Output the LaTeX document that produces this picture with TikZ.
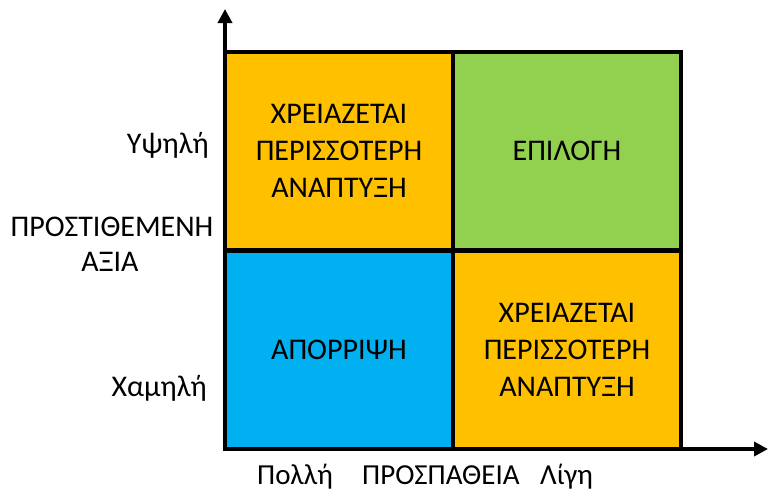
\documentclass[tikz,border=0pt]{standalone}
\usepackage{fontspec}
\setmainfont{Carlito}
\usetikzlibrary{arrows.meta}
\definecolor{qorange}{HTML}{FFC000}
\definecolor{qgreen}{HTML}{92D050}
\definecolor{qblue}{HTML}{00B0F0}
\tikzset{
  quad/.style={draw=black, line width=4pt, minimum width=228pt, minimum height=198pt,
    inner sep=0pt, align=center, font=\fontsize{30}{37}\selectfont},
  axis/.style={line width=4.5pt, -{Triangle[length=14pt,width=14pt]}},
  lbl/.style={inner sep=0pt, font=\fontsize{30}{37}\selectfont},
  blbl/.style={inner sep=0pt, font=\fontsize{29}{36}\selectfont},
}
\begin{document}
\begin{tikzpicture}[x=1pt,y=-1pt]
\useasboundingbox (0,0) rectangle (768,491);
% quadrants
\node[quad, fill=qorange] (tl) at (339,151) {ΧΡΕΙΑΖΕΤΑΙ\\ΠΕΡΙΣΣΟΤΕΡΗ\\ΑΝΑΠΤΥΞΗ};
\node[quad, fill=qgreen] (tr) at (567,151) {ΕΠΙΛΟΓΗ};
\node[quad, fill=qblue] (bl) at (339,349.5) {ΑΠΟΡΡΙΨΗ};
\node[quad, fill=qorange] (br) at (567,349.5) {ΧΡΕΙΑΖΕΤΑΙ\\ΠΕΡΙΣΣΟΤΕΡΗ\\ΑΝΑΠΤΥΞΗ};
% axes
\coordinate (o) at (225,449);
\coordinate (ytip) at (225,9);
\coordinate (xtip) at (768,449);
\draw[axis] (o) -- (ytip);
\draw[axis] (o) -- (xtip);
% left labels
\node[lbl, anchor=base east] (high) at (209,153) {Υψηλή};
\node[lbl, anchor=base] (val1) at (112,236) {ΠΡΟΣΤΙΘΕΜΕΝΗ};
\node[lbl, anchor=base] (val2) at (110,271) {ΑΞΙΑ};
\node[lbl, anchor=base east] (low) at (207,396) {Χαμηλή};
% bottom labels
\node[blbl, anchor=base west] (much) at (257,484) {Πολλή};
\node[blbl, anchor=base west] (effort) at (362,484) {ΠΡΟΣΠΑΘΕΙΑ};
\node[blbl, anchor=base west] (little) at (540,484) {Λίγη};
\end{tikzpicture}
\end{document}
